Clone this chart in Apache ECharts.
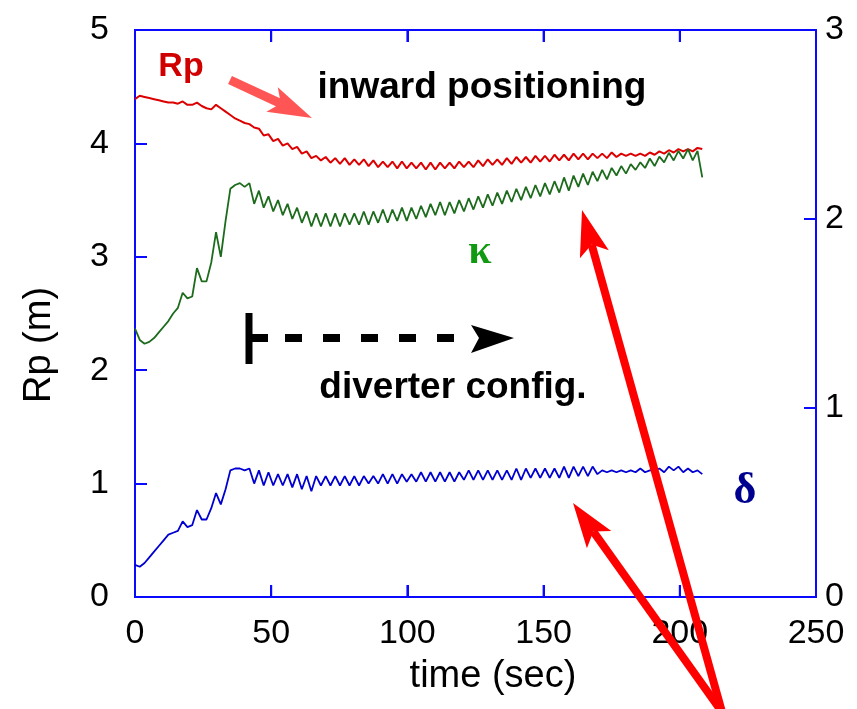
<!DOCTYPE html>
<html>
<head>
<meta charset="utf-8">
<script src="https://cdn.jsdelivr.net/npm/echarts@6/dist/echarts.min.js"></script>
<style>
  html, body { margin: 0; padding: 0; background: #fff; }
  #chart { width: 857px; height: 709px; }
</style>
</head>
<body>
<div id="chart"></div>
<script>
// time base (sec)
const time = [
  0, 1.75, 3.5, 5.25, 7, 8.75, 10.5, 12.25, 14, 15.75,
  17.5, 19.25, 21, 22.75, 24.5, 26.25, 28, 29.75, 31.5, 33.25,
  35, 36.75, 38.5, 40.25, 42, 43.75, 45.5, 47.25, 49, 50.75,
  52.5, 54.25, 56, 57.75, 59.5, 61.25, 63, 64.75, 66.5, 68.25,
  70, 71.75, 73.5, 75.25, 77, 78.75, 80.5, 82.25, 84, 85.75,
  87.5, 89.25, 91, 92.75, 94.5, 96.25, 98, 99.75, 101.5, 103.25,
  105, 106.75, 108.5, 110.25, 112, 113.75, 115.5, 117.25, 119, 120.75,
  122.5, 124.25, 126, 127.75, 129.5, 131.25, 133, 134.75, 136.5, 138.25,
  140, 141.75, 143.5, 145.25, 147, 148.75, 150.5, 152.25, 154, 155.75,
  157.5, 159.25, 161, 162.75, 164.5, 166.25, 168, 169.75, 171.5, 173.25,
  175, 176.75, 178.5, 180.25, 182, 183.75, 185.5, 187.25, 189, 190.75,
  192.5, 194.25, 196, 197.75, 199.5, 201.25, 203, 204.75, 206.5, 208.25
];

// Rp (m), left axis
const rp = [
  4.39, 4.42, 4.41, 4.40, 4.39, 4.38, 4.37, 4.36, 4.36, 4.35,
  4.37, 4.34, 4.34, 4.36, 4.33, 4.31, 4.30, 4.34, 4.31, 4.28,
  4.25, 4.22, 4.20, 4.18, 4.17, 4.14, 4.13, 4.07, 4.08, 4.02,
  4.04, 3.98, 4.00, 3.95, 3.97, 3.91, 3.93, 3.87, 3.89, 3.85,
  3.88, 3.83, 3.87, 3.82, 3.87, 3.81, 3.86, 3.81, 3.86, 3.80,
  3.85, 3.79, 3.84, 3.79, 3.84, 3.78, 3.84, 3.78, 3.83, 3.78,
  3.83, 3.77, 3.83, 3.77, 3.83, 3.78, 3.83, 3.78, 3.84, 3.79,
  3.84, 3.79, 3.85, 3.80, 3.86, 3.81, 3.86, 3.81, 3.87, 3.82,
  3.88, 3.83, 3.88, 3.83, 3.89, 3.84, 3.89, 3.84, 3.90, 3.85,
  3.90, 3.85, 3.91, 3.86, 3.91, 3.86, 3.91, 3.87, 3.91, 3.87,
  3.92, 3.88, 3.91, 3.89, 3.91, 3.89, 3.91, 3.89, 3.92, 3.90,
  3.93, 3.91, 3.94, 3.92, 3.95, 3.93, 3.95, 3.93, 3.96, 3.95
];

// elongation kappa, right axis
const kappa = [
  1.42, 1.36, 1.34, 1.35, 1.37, 1.40, 1.43, 1.46, 1.50, 1.53,
  1.61, 1.58, 1.59, 1.74, 1.67, 1.67, 1.77, 1.93, 1.80, 1.99,
  2.16, 2.18, 2.19, 2.17, 2.19, 2.08, 2.15, 2.06, 2.12, 2.04,
  2.10, 2.02, 2.08, 2.00, 2.06, 1.98, 2.04, 1.96, 2.03, 1.96,
  2.03, 1.96, 2.03, 1.96, 2.03, 1.97, 2.03, 1.97, 2.04, 1.97,
  2.04, 1.98, 2.05, 1.98, 2.05, 1.99, 2.06, 1.99, 2.06, 2.00,
  2.07, 2.01, 2.08, 2.02, 2.09, 2.02, 2.09, 2.03, 2.10, 2.04,
  2.11, 2.05, 2.12, 2.06, 2.13, 2.07, 2.14, 2.08, 2.15, 2.09,
  2.16, 2.10, 2.17, 2.11, 2.18, 2.12, 2.19, 2.13, 2.20, 2.14,
  2.22, 2.15, 2.23, 2.17, 2.24, 2.18, 2.25, 2.20, 2.26, 2.21,
  2.27, 2.23, 2.28, 2.24, 2.29, 2.26, 2.30, 2.27, 2.32, 2.28,
  2.33, 2.30, 2.35, 2.31, 2.36, 2.32, 2.37, 2.31, 2.36, 2.22
];

// triangularity delta, right axis
const delta = [
  0.17, 0.16, 0.18, 0.21, 0.24, 0.27, 0.30, 0.33, 0.34, 0.35,
  0.40, 0.37, 0.38, 0.46, 0.41, 0.41, 0.47, 0.55, 0.49, 0.57,
  0.67, 0.68, 0.68, 0.67, 0.68, 0.60, 0.67, 0.59, 0.66, 0.59,
  0.65, 0.59, 0.65, 0.58, 0.65, 0.57, 0.64, 0.56, 0.64, 0.59,
  0.64, 0.59, 0.64, 0.59, 0.64, 0.59, 0.64, 0.59, 0.64, 0.60,
  0.64, 0.60, 0.65, 0.60, 0.65, 0.60, 0.65, 0.61, 0.65, 0.61,
  0.66, 0.61, 0.66, 0.61, 0.66, 0.61, 0.66, 0.61, 0.66, 0.62,
  0.67, 0.62, 0.67, 0.62, 0.67, 0.62, 0.67, 0.62, 0.67, 0.62,
  0.68, 0.62, 0.68, 0.63, 0.68, 0.63, 0.68, 0.63, 0.68, 0.63,
  0.69, 0.63, 0.69, 0.64, 0.69, 0.64, 0.69, 0.65, 0.67, 0.66,
  0.67, 0.66, 0.67, 0.66, 0.67, 0.66, 0.68, 0.66, 0.67, 0.67,
  0.68, 0.66, 0.69, 0.67, 0.69, 0.66, 0.68, 0.66, 0.67, 0.65
];

// time-axis tick positions (drawn on top and bottom frame)
const xTicks = [50, 100, 150, 200];

const AXIS = '#0a0aff';
const FONT = '"Liberation Sans", Arial, sans-serif';

var myChart = echarts.init(document.getElementById('chart'));

// arrow made of a thick shaft plus a notched head
function arrow(x0, y0, x1, y1, w, L, H, color) {
  const dx = x1 - x0, dy = y1 - y0, len = Math.hypot(dx, dy);
  const ux = dx / len, uy = dy / len, px = -uy, py = ux;
  const bx = x1 - ux * L, by = y1 - uy * L;
  const nx = x1 - ux * L * 0.78, ny = y1 - uy * L * 0.78;
  return [
    { type: 'line', z: 100, shape: { x1: x0, y1: y0, x2: nx, y2: ny },
      style: { stroke: color, lineWidth: w } },
    { type: 'polygon', z: 100,
      shape: { points: [[x1, y1], [bx + px * H, by + py * H], [nx, ny], [bx - px * H, by - py * H]] },
      style: { fill: color } }
  ];
}

function txt(x, y, text, font, color, rot) {
  return { type: 'text', z: 100, x: x, y: y, rotation: rot || 0,
    style: { text: text, font: font, fill: color, textAlign: 'center', textVerticalAlign: 'middle' } };
}

// fresh axis style object for every axis
function axis(extra) {
  return Object.assign({
    type: 'value',
    axisLine: { show: true, onZero: false, lineStyle: { color: AXIS, width: 2 } },
    axisTick: { show: true, inside: true, length: 12, interval: 0, lineStyle: { color: AXIS, width: 2 } },
    splitLine: { show: false }
  }, extra);
}

var graphics = [
  txt(40, 345, 'Rp (m)', '38px ' + FONT, '#000', Math.PI / 2),
  txt(493, 677, 'time (sec)', '38px ' + FONT, '#000'),
  txt(181, 67, 'Rp', 'bold 34px ' + FONT, '#d00000'),
  txt(482, 88, 'inward positioning', 'bold 37px ' + FONT, '#000'),
  txt(453, 388, 'diverter config.', 'bold 37px ' + FONT, '#000'),
  txt(480, 252, 'κ', 'bold 42px "Liberation Serif", serif', '#119911'),
  txt(745, 492, 'δ', 'bold 44px "Liberation Serif", serif', '#000090'),
  // diverter marker
  { type: 'line', z: 100, shape: { x1: 249, y1: 313, x2: 249, y2: 364 }, style: { stroke: '#000', lineWidth: 7 } },
  { type: 'line', z: 100, shape: { x1: 249, y1: 338, x2: 268, y2: 338 }, style: { stroke: '#000', lineWidth: 8 } },
  { type: 'line', z: 100, shape: { x1: 285, y1: 338, x2: 470, y2: 338 }, style: { stroke: '#000', lineWidth: 8, lineDash: [17, 21] } },
  { type: 'polygon', z: 100, shape: { points: [[471, 325], [514, 338], [471, 353], [479, 338]] }, style: { fill: '#000' } }
]
  .concat(arrow(230, 80, 312, 118, 9, 44, 13.5, '#ff5555'))
  .concat(arrow(722, 712, 582, 210, 8, 46, 15, '#ff0000'))
  .concat(arrow(722, 712, 573, 503, 8, 45, 15, '#ff0000'));

var option = {
  animation: false,
  grid: { left: 135, right: 41, top: 30, bottom: 112, show: true, borderColor: AXIS, borderWidth: 2 },
  xAxis: [
    axis({ min: 0, max: 250, interval: 50, position: 'bottom',
      axisLabel: { fontSize: 34, color: '#000', margin: 20, fontFamily: FONT } }),
    axis({ min: 0, max: 250, interval: 50, position: 'top', axisLabel: { show: false } })
  ],
  yAxis: [
    axis({ min: 0, max: 5, interval: 1, position: 'left',
      axisLabel: { fontSize: 34, color: '#000', margin: 26, fontFamily: FONT } }),
    axis({ min: 0, max: 3, interval: 1, position: 'right',
      axisLabel: { fontSize: 34, color: '#000', margin: 9, fontFamily: FONT } })
  ],
  series: [
    { name: 'Rp', type: 'line', xAxisIndex: 0, yAxisIndex: 0, showSymbol: false,
      data: time.map((t, i) => [t, rp[i]]), lineStyle: { color: '#dd0000', width: 2 } },
    { name: 'kappa', type: 'line', xAxisIndex: 0, yAxisIndex: 1, showSymbol: false,
      data: time.map((t, i) => [t, kappa[i]]), lineStyle: { color: '#1d6b1d', width: 1.8 } },
    { name: 'delta', type: 'line', xAxisIndex: 0, yAxisIndex: 1, showSymbol: false,
      data: time.map((t, i) => [t, delta[i]]), lineStyle: { color: '#0000d0', width: 1.8 } }
  ],
  graphic: graphics
};

myChart.setOption(option);

// inward ticks on the time axis (top and bottom), placed through the axis scale
xTicks.forEach(function (v) {
  const b = myChart.convertToPixel({ xAxisIndex: 0, yAxisIndex: 0 }, [v, 0]);
  const t = myChart.convertToPixel({ xAxisIndex: 0, yAxisIndex: 0 }, [v, 5]);
  graphics.push({ type: 'line', z: 90, shape: { x1: b[0], y1: b[1], x2: b[0], y2: b[1] - 12 },
    style: { stroke: AXIS, lineWidth: 2 } });
  graphics.push({ type: 'line', z: 90, shape: { x1: t[0], y1: t[1], x2: t[0], y2: t[1] + 12 },
    style: { stroke: AXIS, lineWidth: 2 } });
});
myChart.setOption({ graphic: graphics });
</script>
</body>
</html>
